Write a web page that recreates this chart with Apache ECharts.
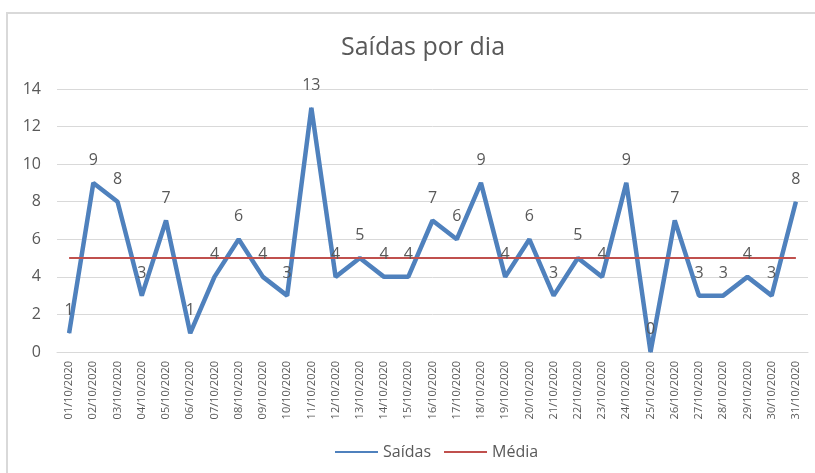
<!DOCTYPE html>
<html>
<head>
<meta charset="utf-8">
<script src="https://cdn.jsdelivr.net/npm/echarts@6/dist/echarts.min.js"></script>
<style>
  html, body { margin: 0; padding: 0; background: #fff; }
  #chart { width: 815px; height: 473px; }
</style>
</head>
<body>
<div id="chart"></div>
<script>
// dias de outubro
const dias = [
  "01/10/2020", "02/10/2020", "03/10/2020", "04/10/2020", "05/10/2020",
  "06/10/2020", "07/10/2020", "08/10/2020", "09/10/2020", "10/10/2020",
  "11/10/2020", "12/10/2020", "13/10/2020", "14/10/2020", "15/10/2020",
  "16/10/2020", "17/10/2020", "18/10/2020", "19/10/2020", "20/10/2020",
  "21/10/2020", "22/10/2020", "23/10/2020", "24/10/2020", "25/10/2020",
  "26/10/2020", "27/10/2020", "28/10/2020", "29/10/2020", "30/10/2020",
  "31/10/2020"
];
const saidas = [1, 9, 8, 3, 7, 1, 4, 6, 4, 3, 13, 4, 5, 4, 4, 7, 6, 9, 4, 6, 3, 5, 4, 9, 0, 7, 3, 3, 4, 3, 8];
const media = [5, 5, 5, 5, 5, 5, 5, 5, 5, 5, 5, 5, 5, 5, 5, 5, 5, 5, 5, 5, 5, 5, 5, 5, 5, 5, 5, 5, 5, 5, 5];

const cinza = "#595959";
const fonte = "'Open Sans', sans-serif";

const chart = echarts.init(document.getElementById("chart"));
chart.setOption({
  animation: false,
  textStyle: { fontFamily: fonte },
  title: {
    text: "Saídas por dia",
    left: 336,
    top: 30,
    textStyle: { fontSize: 25, fontWeight: "normal", color: cinza, fontFamily: fonte }
  },
  graphic: [{
    type: "rect",
    shape: { x: 7, y: 13, width: 830, height: 490 },
    style: { fill: "none", stroke: "#d9d9d9", lineWidth: 2 },
    silent: true
  }],
  grid: { left: 57, right: 7, top: 89, bottom: 121, outerBoundsMode: "none" },
  legend: {
    bottom: 8,
    left: 329,
    itemWidth: 43,
    itemHeight: 14,
    itemGap: 12,
    itemStyle: { opacity: 0 },
    textStyle: { fontSize: 16, color: cinza, fontFamily: fonte },
    data: ["Saídas", "Média"]
  },
  xAxis: {
    type: "category",
    data: dias,
    axisLine: { lineStyle: { color: "#d9d9d9", width: 1 } },
    axisTick: { show: false },
    axisLabel: { rotate: 90, interval: 0, fontSize: 11, color: cinza, margin: 9 }
  },
  yAxis: {
    type: "value",
    min: 0,
    max: 14,
    interval: 2,
    axisLine: { show: false },
    axisTick: { show: false },
    axisLabel: { fontSize: 16, color: cinza, margin: 16 },
    splitLine: { lineStyle: { color: "#d9d9d9", width: 1 } }
  },
  series: [
    {
      name: "Saídas",
      type: "line",
      data: saidas,
      symbol: "circle",
      symbolSize: 1,
      itemStyle: { color: "#4f81bd" },
      lineStyle: { color: "#4f81bd", width: 4.5 },
      label: { show: true, position: "top", distance: 14, fontSize: 16, color: cinza }
    },
    {
      name: "Média",
      type: "line",
      data: media,
      symbol: "none",
      itemStyle: { color: "#c0504d" },
      lineStyle: { color: "#c0504d", width: 2 }
    }
  ]
});
</script>
</body>
</html>
